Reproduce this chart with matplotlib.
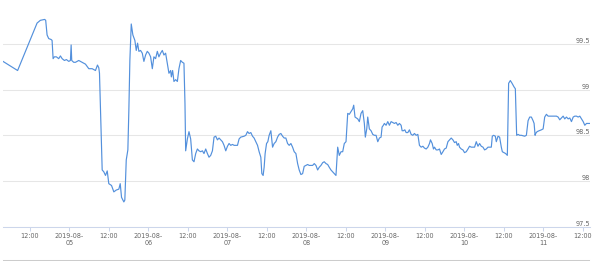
import matplotlib
matplotlib.use("Agg")
import matplotlib.pyplot as plt
from matplotlib.lines import Line2D
import pandas as pd

plt.rcParams.update({"font.family": "DejaVu Sans", "font.size": 4.7})

# hours since 2019-08-05 00:00 and the reading at that time
hours = [
    -20.18, -15.74, -9.83, -8.83, -7.52, -7.21, -6.79, -6.30, -5.57, -5.27,
    -4.96, -4.57, -3.96, -3.26, -2.74, -2.22, -1.52, -0.91, -0.21, 0.30,
    0.52, 0.70, 1.31, 1.83, 2.83, 3.87, 4.87, 5.88, 6.91, 7.91,
    8.52, 8.92, 9.13, 9.44, 9.74, 9.95, 10.44, 10.96, 11.48, 11.96,
    12.79, 13.49, 14.22, 15.01, 15.43, 15.83, 16.53, 16.83, 17.26, 17.75,
    18.05, 18.36, 18.78, 19.27, 19.88, 20.30, 20.70, 21.10, 21.61, 22.13,
    22.62, 23.14, 23.65, 24.14, 24.66, 25.18, 25.66, 26.18, 26.70, 27.18,
    27.70, 28.22, 28.71, 29.22, 29.74, 30.23, 30.75, 30.96, 31.35, 31.75,
    32.27, 32.79, 33.27, 33.79, 34.31, 34.79, 35.10, 35.31, 35.83, 36.32,
    36.83, 37.35, 37.84, 38.36, 38.87, 39.36, 39.88, 40.40, 40.88, 41.40,
    41.92, 42.40, 42.92, 43.44, 43.93, 44.44, 44.96, 45.45, 45.97, 46.48,
    46.97, 47.49, 48.01, 48.49, 49.01, 49.53, 50.02, 51.05, 51.54, 52.05,
    53.06, 53.58, 54.09, 54.58, 55.10, 55.62, 56.10, 56.62, 57.14, 57.63,
    58.14, 58.45, 58.84, 59.15, 59.45, 59.88, 60.27, 60.67, 61.19, 61.71,
    62.19, 62.71, 63.23, 63.71, 64.23, 64.75, 65.24, 65.75, 66.27, 66.76,
    67.28, 67.79, 68.28, 68.80, 69.32, 69.80, 70.32, 70.84, 71.32, 71.84,
    72.36, 72.85, 73.88, 74.37, 74.89, 75.40, 75.89, 76.41, 76.93, 77.41,
    77.93, 78.45, 78.93, 79.45, 79.97, 80.46, 80.97, 81.49, 81.98, 82.50,
    83.01, 83.50, 84.02, 84.54, 85.02, 85.54, 86.06, 86.36, 86.76, 87.58,
    88.07, 88.58, 89.10, 89.59, 89.89, 90.32, 90.62, 91.11, 91.63, 92.15,
    92.63, 93.15, 93.67, 94.16, 94.67, 94.98, 95.37, 95.68, 96.19, 96.71,
    97.20, 97.72, 98.23, 98.72, 99.24, 99.76, 100.24, 100.76, 101.07, 101.46,
    101.89, 102.28, 102.80, 103.29, 103.81, 104.32, 104.81, 105.33, 105.84, 106.33,
    106.85, 107.37, 107.85, 108.37, 108.89, 109.38, 109.68, 110.20, 110.59, 110.90,
    111.42, 111.93, 112.42, 112.94, 113.46, 113.94, 114.46, 114.98, 115.47, 115.98,
    116.50, 116.99, 117.50, 117.81, 118.20, 118.51, 119.03, 119.54, 120.03, 120.55,
    121.07, 121.55, 122.07, 122.59, 123.08, 123.59, 124.11, 124.60, 125.11, 125.63,
    126.12, 126.64, 127.15, 127.64, 128.16, 128.46, 128.86, 129.38, 129.68, 130.20,
    130.68, 131.20, 131.51, 132.02, 132.51, 133.03, 133.42, 133.94, 134.46, 135.07,
    135.46, 135.86, 136.29, 136.77, 137.29, 138.30, 138.81, 139.33, 139.82, 140.33,
    140.85, 141.16, 141.46, 141.64, 142.07, 142.68, 143.38, 143.90, 144.38, 144.90,
    145.42, 145.91, 146.94, 147.95, 148.46, 148.95, 149.47, 149.98, 150.47, 150.99,
    151.51, 152.00, 152.51, 153.03, 153.52, 154.03, 154.55, 155.04, 155.56, 156.07,
    156.56, 157.08, 157.60, 158.08,
]
values = [
    99.31, 99.21, 99.73, 99.76, 99.77, 99.76, 99.60, 99.56, 99.55, 99.54,
    99.34, 99.36, 99.36, 99.34, 99.37, 99.34, 99.32, 99.33, 99.31, 99.32,
    99.49, 99.32, 99.30, 99.30, 99.32, 99.30, 99.28, 99.23, 99.23, 99.21,
    99.27, 99.24, 99.18, 98.77, 98.33, 98.12, 98.10, 98.06, 98.11, 97.97,
    97.95, 97.88, 97.90, 97.91, 97.97, 97.82, 97.77, 97.79, 98.23, 98.34,
    98.77, 99.32, 99.72, 99.60, 99.54, 99.43, 99.51, 99.42, 99.43, 99.40,
    99.31, 99.38, 99.42, 99.40, 99.36, 99.23, 99.36, 99.34, 99.42, 99.36,
    99.40, 99.43, 99.38, 99.40, 99.29, 99.18, 99.21, 99.14, 99.21, 99.09,
    99.11, 99.09, 99.23, 99.32, 99.30, 99.29, 98.85, 98.33, 98.46, 98.54,
    98.46, 98.23, 98.21, 98.30, 98.35, 98.33, 98.32, 98.33, 98.30, 98.35,
    98.30, 98.26, 98.28, 98.33, 98.48, 98.49, 98.45, 98.47, 98.45, 98.43,
    98.39, 98.33, 98.38, 98.41, 98.39, 98.40, 98.39, 98.39, 98.46, 98.48,
    98.49, 98.50, 98.54, 98.52, 98.53, 98.49, 98.47, 98.43, 98.39, 98.32,
    98.26, 98.08, 98.06, 98.15, 98.30, 98.41, 98.43, 98.50, 98.55, 98.37,
    98.41, 98.43, 98.48, 98.51, 98.52, 98.49, 98.47, 98.47, 98.41, 98.39,
    98.41, 98.37, 98.32, 98.30, 98.19, 98.12, 98.07, 98.08, 98.16, 98.17,
    98.18, 98.17, 98.17, 98.19, 98.17, 98.12, 98.15, 98.17, 98.20, 98.21,
    98.19, 98.18, 98.15, 98.12, 98.10, 98.08, 98.06, 98.37, 98.28, 98.32,
    98.32, 98.41, 98.43, 98.74, 98.73, 98.76, 98.79, 98.83, 98.70, 98.68,
    98.65, 98.74, 98.77, 98.63, 98.48, 98.57, 98.70, 98.57, 98.55, 98.51,
    98.50, 98.50, 98.43, 98.47, 98.48, 98.59, 98.61, 98.63, 98.61, 98.65,
    98.61, 98.65, 98.64, 98.63, 98.64, 98.61, 98.63, 98.61, 98.55, 98.55,
    98.56, 98.53, 98.53, 98.56, 98.51, 98.50, 98.52, 98.50, 98.51, 98.39,
    98.37, 98.38, 98.36, 98.35, 98.37, 98.41, 98.45, 98.41, 98.35, 98.37,
    98.34, 98.34, 98.35, 98.29, 98.32, 98.35, 98.36, 98.43, 98.45, 98.47,
    98.45, 98.42, 98.43, 98.39, 98.41, 98.37, 98.35, 98.34, 98.31, 98.32,
    98.35, 98.38, 98.37, 98.37, 98.37, 98.43, 98.38, 98.41, 98.38, 98.37,
    98.34, 98.35, 98.37, 98.37, 98.37, 98.49, 98.50, 98.49, 98.43, 98.49,
    98.48, 98.37, 98.32, 98.31, 98.30, 98.28, 99.07, 99.10, 99.07, 99.03,
    99.01, 98.50, 98.51, 98.50, 98.50, 98.49, 98.50, 98.66, 98.70, 98.70,
    98.66, 98.63, 98.50, 98.52, 98.54, 98.55, 98.56, 98.57, 98.70, 98.73,
    98.71, 98.71, 98.71, 98.71, 98.70, 98.67, 98.69, 98.71, 98.68, 98.70,
    98.68, 98.69, 98.65, 98.70, 98.71, 98.71, 98.70, 98.71, 98.68, 98.65,
    98.61, 98.63, 98.63, 98.63,
]
y_ticks = [97.5, 98, 98.5, 99, 99.5]
y_labels = ["97.5", "98", "98.5", "99", "99.5"]

times = pd.Timestamp("2019-08-05") + pd.to_timedelta(hours, unit="h")
x_ticks = pd.date_range("2019-08-04 12:00", "2019-08-11 12:00", freq="12h")
x_labels = ["12:00" if t.hour == 12 else t.strftime("%Y-%m-\n%d") for t in x_ticks]

fig = plt.figure(figsize=(6, 2.61), dpi=100)
ax = fig.add_axes([0.005, 0.132, 0.978, 0.874])
ax.plot(times, values, color="#5390dc", lw=0.85)

ax.set_xlim(times[0], times[-1])
ax.set_ylim(97.5, 100)
ax.set_yticks(y_ticks)
ax.set_yticklabels([])
ax.tick_params(axis="y", length=0)
ax.grid(axis="y", color="#e6e6e6", lw=0.75)
ax.set_axisbelow(True)
for v, lab in zip(y_ticks, y_labels):
    ax.text(1.0, v, lab, transform=ax.get_yaxis_transform(), ha="right", va="bottom",
            color="#666666", fontsize=4.7)

ax.set_xticks(x_ticks)
ax.set_xticklabels(x_labels, color="#666666", linespacing=1.15)
ax.tick_params(axis="x", length=3, width=0.75, color="#ccd6eb", pad=2)

for s in ["left", "right", "top"]:
    ax.spines[s].set_visible(False)
ax.spines["bottom"].set_color("#ccd6eb")
ax.spines["bottom"].set_linewidth(0.75)

# thin line along the bottom edge
fig.add_artist(Line2D([0.005, 0.982], [0.004, 0.004], color="#cccccc", lw=0.75))

fig.savefig("out.png", dpi=100)
